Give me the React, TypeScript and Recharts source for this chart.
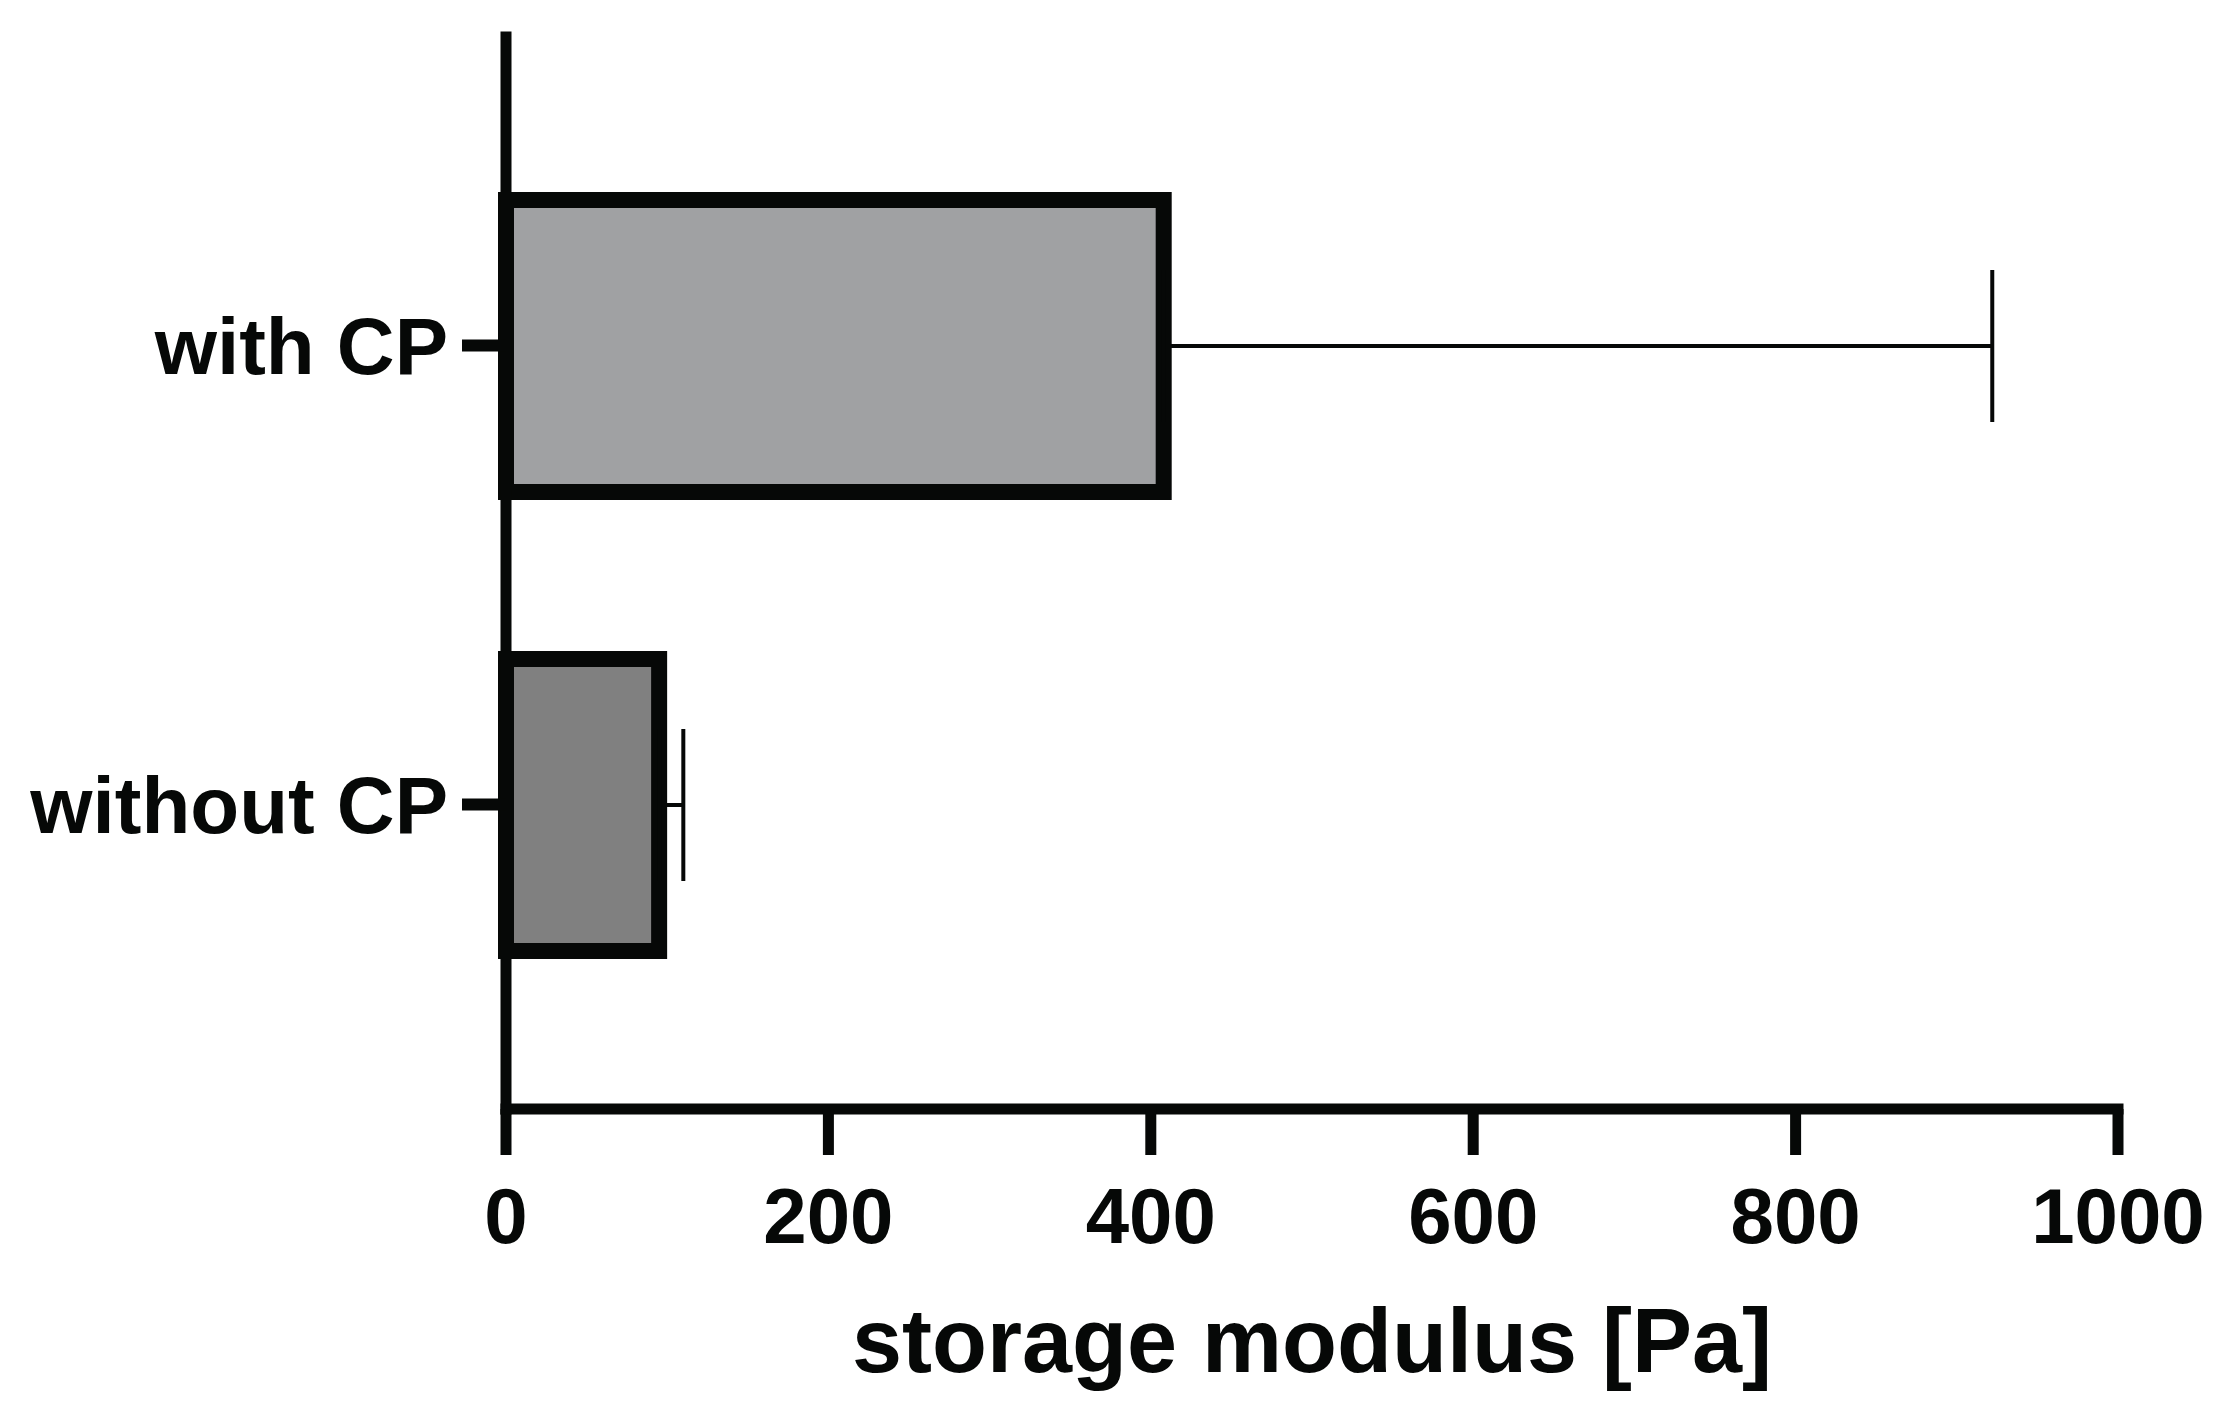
import { BarChart, Bar, Cell, XAxis, YAxis, ErrorBar } from "recharts"

const categories = ["with CP", "without CP"]
const storageModulus = [408, 95]
const errUpper = [514, 15]
const fills = ["#a0a1a3", "#808080"]
const xTicks = [0, 200, 400, 600, 800, 1000]

const data = categories.map((name, i) => ({
  name,
  value: storageModulus[i],
  err: [0, errUpper[i]],
}))

const ink = "#060807"
const font = "'Liberation Sans', Arial, sans-serif"

export default function App() {
  return (
    <div style={{ position: "absolute", left: 0, top: 0, background: "#fff" }}>
      <BarChart
        width={2231}
        height={1421}
        data={data}
        layout="vertical"
        margin={{ top: 37, right: 113, bottom: 0, left: 0 }}
      >
        <XAxis
          type="number"
          domain={[0, 1000]}
          ticks={xTicks}
          height={312}
          tickSize={46}
          tickMargin={33}
          axisLine={{ stroke: ink, strokeWidth: 11, strokeLinecap: "square" }}
          tickLine={{ stroke: ink, strokeWidth: 11 }}
          tick={{ fill: ink, fontSize: 78, fontWeight: 700, fontFamily: font }}
          label={{
            value: "storage modulus [Pa]",
            position: "insideBottom",
            offset: 49,
            fill: ink,
            fontSize: 90,
            fontWeight: 700,
            fontFamily: font,
          }}
        />
        <YAxis
          type="category"
          dataKey="name"
          width={506}
          padding={{ top: 79, bottom: 75 }}
          tickSize={44}
          tickMargin={14}
          axisLine={{ stroke: ink, strokeWidth: 11, strokeLinecap: "square" }}
          tickLine={{ stroke: ink, strokeWidth: 12 }}
          tick={{ fill: ink, fontSize: 80, fontWeight: 700, fontFamily: font }}
        />
        <Bar
          dataKey="value"
          barSize={292}
          stroke={ink}
          strokeWidth={16}
          isAnimationActive={false}
        >
          {data.map((d, i) => (
            <Cell key={d.name} fill={fills[i]} />
          ))}
          <ErrorBar
            dataKey="err"
            direction="x"
            width={76}
            stroke={ink}
            strokeWidth={4}
            isAnimationActive={false}
          />
        </Bar>
      </BarChart>
    </div>
  )
}
